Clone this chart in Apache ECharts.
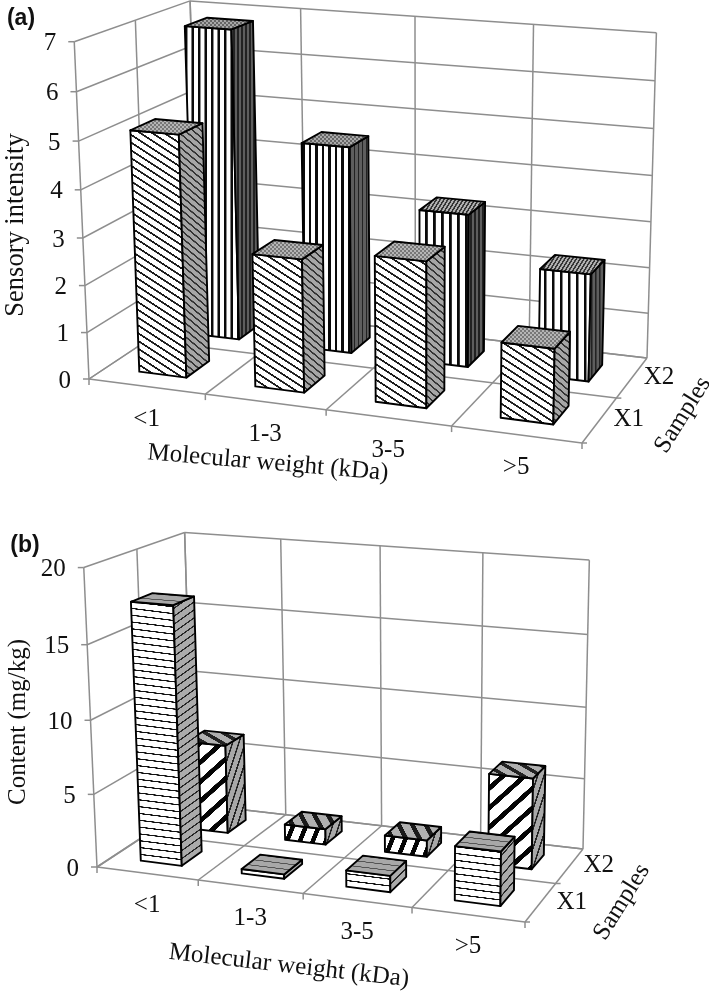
<!DOCTYPE html>
<html><head><meta charset="utf-8">
<style>html,body{margin:0;padding:0;background:#fff}#c{width:709px;height:991px}</style>
<script src="https://cdn.jsdelivr.net/npm/echarts@6/dist/echarts.min.js"></script>
</head><body><div id="c"></div>
<script>
// ---- data ----
const categories = ['<1', '1-3', '3-5', '>5'];
const samples = ['X1', 'X2'];
const sensoryX1 = [5.12, 2.8, 3.03, 1.55];
const sensoryX2 = [6.8, 4.5, 3.3, 2.3];
const contentX1 = [17.55, 0.3, 1.1, 3.6];
const contentX2 = [6.3, 1.1, 1.15, 6.26];
const sensoryTicks = [0, 1, 2, 3, 4, 5, 6, 7];
const contentTicks = [0, 5, 10, 15, 20];
const xTitle = 'Molecular weight (kDa)';
const zTitle = 'Samples';
const yTitleA = 'Sensory intensity';
const yTitleB = 'Content (mg/kg)';

// ---- perspective frames (screen corners of the Excel-style 3-D box) ----
const frameA = {
  floor: [[89,379],[582,443],[647,358],[199,306]],
  top: [[76,41],[188,4],[657,30]],
  grid: {left:89, top:41, width:493, height:338}, max:7,
  ticks:sensoryTicks, yTitle:yTitleA, yFont:26.5, tag:'(a)', tagPos:[21,19], yPos:[16,225],
  xPos:[268,463], xRot:-4.9, zPos:[683,415], catDy:33, zDx:[29,27]
};
const frameB = {
  floor: [[97,867],[525,922],[583,849],[193,804]],
  top: [[86,567],[182,535],[590,558]],
  grid: {left:97, top:567, width:428, height:300}, max:20,
  ticks:contentTicks, yTitle:yTitleB, yFont:25, tag:'(b)', tagPos:[25,546], yPos:[18,722],
  xPos:[289,966], xRot:-6.5, zPos:[622,902], catDy:32, zDx:[31,29]
};

// solve the 3x4 camera matrix: floor homography + height column fitted to the three known top corners
function solve3(A,b){
  const M=A.map((r,i)=>r.concat(b[i]));
  for(let i=0;i<3;i++){
    let p=i; for(let j=i+1;j<3;j++) if(Math.abs(M[j][i])>Math.abs(M[p][i])) p=j;
    [M[i],M[p]]=[M[p],M[i]];
    for(let j=0;j<3;j++) if(j!==i){const f=M[j][i]/M[i][i]; for(let k=i;k<4;k++) M[j][k]-=f*M[i][k];}
  }
  return M.map((r,i)=>r[3]/r[i]);
}
function camera(fr){
  const [p0,p1,p2,p3]=fr.floor, sx=p0[0]-p1[0]+p2[0]-p3[0], sy=p0[1]-p1[1]+p2[1]-p3[1];
  const dx1=p1[0]-p2[0], dx2=p3[0]-p2[0], dy1=p1[1]-p2[1], dy2=p3[1]-p2[1], den=dx1*dy2-dx2*dy1;
  const g=(sx*dy2-dx2*sy)/den, h=(dx1*sy-sx*dy1)/den;
  const a=p1[0]-p0[0]+g*p1[0], b=p3[0]-p0[0]+h*p3[0], d=p1[1]-p0[1]+g*p1[1], e=p3[1]-p0[1]+h*p3[1];
  const st=[[0,0],[0,1],[1,1]], rows=[], rhs=[];
  st.forEach(([s,r],i)=>{
    const w=g*s+h*r+1, [X,Y]=fr.top[i];
    rows.push([1,0,-X]); rhs.push(X*w-(a*s+b*r+p0[0]));
    rows.push([0,1,-Y]); rhs.push(Y*w-(d*s+e*r+p0[1]));
  });
  const N=[0,1,2].map(i=>[0,1,2].map(j=>rows.reduce((t,R)=>t+R[i]*R[j],0)));
  const B=[0,1,2].map(i=>rows.reduce((t,R,n)=>t+R[i]*rhs[n],0));
  const [k,l,m]=solve3(N,B);
  return (s,r,t)=>{const w=g*s+h*r+1+m*t; return [(a*s+b*r+p0[0]+k*t)/w,(d*s+e*r+p0[1]+l*t)/w];};
}
function projector(fr, params, api){
  const cam=fr.cam||(fr.cam=camera(fr)), rc=params.coordSys;
  return (x,z,v)=>{
    const c=api.coord([x,v]);
    return cam((c[0]-rc.x)/rc.width, z/2, (rc.y+rc.height-c[1])/rc.height);
  };
}

// ---- hatching ----
const RES=4;
function stripes(angle, period, thick, fg, bg, origin){
  const n=Math.max(1,Math.round(period*RES));
  const cv=document.createElement('canvas'); cv.width=4; cv.height=n;
  const g=cv.getContext('2d'); g.fillStyle=bg; g.fillRect(0,0,4,n);
  g.fillStyle=fg; g.fillRect(0,0,4,Math.round(thick*RES));
  return {image:cv, repeat:'repeat', rotation:angle*Math.PI/180, scaleX:1/RES, scaleY:1/RES,
          x:origin?origin[0]:0, y:origin?origin[1]:0};
}
function dots(c1,c2){
  const cv=document.createElement('canvas'); cv.width=cv.height=4;
  const g=cv.getContext('2d'); g.fillStyle=c1; g.fillRect(0,0,4,4);
  g.fillStyle=c2; g.fillRect(0,0,2,2); g.fillRect(2,2,2,2);
  return {image:cv, repeat:'repeat'};
}
const edgeAngle=(a,b)=>Math.atan2(b[1]-a[1],b[0]-a[0])*180/Math.PI;

const hatch = {
  a0:(F,c)=>({
    front:stripes(33,6.4,1.7,'#1a1a1a','#fff',F[0]),
    side:stripes(40,5.2,1.6,'#333','#a6a6a6',F[1]),
    top:dots('#777','#b5b5b5')}),
  a1:(F,c)=>({
    front:stripes(90,c<2?6.4:8,2.4,'#0a0a0a','#fff',F[0]),
    side:stripes(90,4,1.8,'#222','#5e5e5e',F[1]),
    top:c<2?dots('#666','#a8a8a8'):stripes(-58,3.2,1.4,'#333','#b0b0b0',F[3])}),
  b0:(F,c,d)=>({
    front:stripes(edgeAngle(F[0],F[1]),6.7,1.3,'#111','#fff',F[0]),
    side:stripes(edgeAngle(F[1],F[4]),6.4,1.2,'#222','#ababab',F[1]),
    top:stripes(edgeAngle(F[3],F[2]),5.5,1,'#555','#a8a8a8',F[3])}),
  b1:(F,c,h)=> h<30 ? ({
    front:stripes(-68,12,4.6,'#050505','#fff',F[0]),
    side:stripes(-72,6,1.5,'#222','#a8a8a8',F[1]),
    top:stripes(62,12,4.4,'#1a1a1a','#b0b0b0',F[3])}) : ({
    front:stripes(-42,14.5,4.8,'#050505','#fff',F[0]),
    side:stripes(-72,6,1.5,'#222','#a8a8a8',F[1]),
    top:stripes(30,9,3.6,'#222','#b0b0b0',F[3])})
};

const X0=.29, X1=.70, Z0=.29, Z1=.71;
const OUT={stroke:'#000', lineWidth:1.9, lineJoin:'round'};
function barRenderer(fr, style, depth){
  return (params, api)=>{
    const P=projector(fr,params,api), i=api.value(0), v=api.value(1);
    const xa=i+X0, xb=i+X1, za=depth+Z0, zb=depth+Z1;
    const a=P(xa,za,0), b=P(xb,za,0), c=P(xb,zb,0);
    const d=P(xa,za,v), e=P(xb,za,v), f=P(xb,zb,v), g=P(xa,zb,v);
    const F=[a,b,f,g,c];
    const h=Math.abs(a[1]-d[1]);
    const pat=hatch[style](F,i,h);
    return {type:'group',children:[
      {type:'polygon',shape:{points:[a,b,e,d]},style:Object.assign({fill:pat.front},OUT)},
      {type:'polygon',shape:{points:[b,c,f,e]},style:Object.assign({fill:pat.side},OUT)},
      {type:'polygon',shape:{points:[d,e,f,g]},style:Object.assign({fill:pat.top},OUT)}
    ]};
  };
}
const GRID={stroke:'#8e8e8e', lineWidth:1.5};
const line=(p,q)=>({type:'line',shape:{x1:p[0],y1:p[1],x2:q[0],y2:q[1]},style:GRID});
const label=(text,p,opt)=>Object.assign({type:'text',x:p[0],y:p[1],
  style:{text,font:(opt&&opt.font)||'25px "Liberation Serif"',fill:'#111',align:(opt&&opt.align)||'center',verticalAlign:'middle'}},
  opt&&opt.rot!=null?{rotation:opt.rot*Math.PI/180}:{});
function frameRenderer(fr){
  return (params,api)=>{
    const P=projector(fr,params,api), kids=[], n=categories.length, m=fr.max;
    fr.ticks.forEach(t=>{
      kids.push(line(P(0,0,t),P(0,2,t)), line(P(0,2,t),P(n,2,t)));
      const p=P(0,0,t);
      kids.push(line([p[0]-6,p[1]],p));
      kids.push(label(String(t),[p[0]-18,p[1]+2],{align:'right'}));
    });
    for(let i=0;i<=n;i++){
      kids.push(line(P(i,2,0),P(i,2,m)), line(P(i,0,0),P(i,2,0)));
      const p=P(i,0,0); kids.push(line(p,[p[0],p[1]+6]));
    }
    for(let z=0;z<=2;z++){
      kids.push(line(P(0,z,0),P(n,z,0)), line(P(0,z,0),P(0,z,m)));
      if(z<2){const p=P(n,z,0); kids.push(line(p,[p[0]+5,p[1]]));}
    }
    categories.forEach((c,i)=>{const p=P(i+.5,0,0); kids.push(label(c,[p[0],p[1]+fr.catDy]));});
    samples.forEach((c,z)=>{const p=P(n,z+.5,0); kids.push(label(c,[p[0]+fr.zDx[z],p[1]]));});
    kids.push(label(fr.yTitle,fr.yPos,{rot:90,font:fr.yFont+'px "Liberation Serif"'}));
    kids.push(label(xTitle,fr.xPos,{rot:fr.xRot}));
    kids.push(label(zTitle,fr.zPos,{rot:58}));
    kids.push(label(fr.tag,fr.tagPos,{font:'bold 23px "Liberation Sans"'}));
    return {type:'group',children:kids};
  };
}
const toData=arr=>arr.map((v,i)=>[i,v]);
function custom(idx,name,data,renderItem){
  return {type:'custom',name,xAxisIndex:idx,yAxisIndex:idx,data,renderItem,silent:true,clip:false,
    encode:{x:0,y:1},animation:false};
}
const chart=echarts.init(document.getElementById('c'),null,{renderer:'canvas'});
chart.setOption({
  animation:false, backgroundColor:'#fff',
  grid:[frameA.grid,frameB.grid],
  xAxis:[0,1].map(gridIndex=>({gridIndex,type:'value',min:0,max:categories.length,show:false})),
  yAxis:[frameA,frameB].map((f,gridIndex)=>({gridIndex,type:'value',min:0,max:f.max,show:false})),
  series:[
    custom(0,'frame a',[[0,0]],frameRenderer(frameA)),
    custom(0,'X2',toData(sensoryX2),barRenderer(frameA,'a1',1)),
    custom(0,'X1',toData(sensoryX1),barRenderer(frameA,'a0',0)),
    custom(1,'frame b',[[0,0]],frameRenderer(frameB)),
    custom(1,'X2',toData(contentX2),barRenderer(frameB,'b1',1)),
    custom(1,'X1',toData(contentX1),barRenderer(frameB,'b0',0))
  ]
});
</script></body></html>
